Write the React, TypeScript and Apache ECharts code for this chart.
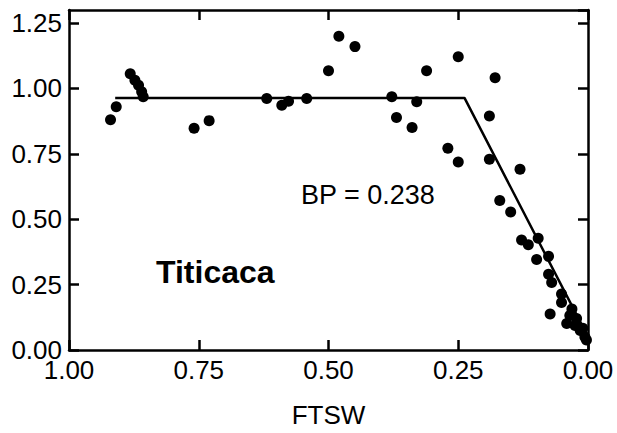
import React, { useEffect, useRef } from "react";
import * as echarts from "echarts";

const ftsw = [
  0.92, 0.909, 0.882, 0.873, 0.866, 0.86, 0.857, 0.759, 0.73, 0.619, 0.59, 0.577,
  0.542, 0.5, 0.48, 0.449, 0.378, 0.33, 0.369, 0.339, 0.311, 0.25, 0.179, 0.19,
  0.27, 0.25, 0.19, 0.17, 0.149, 0.131, 0.128, 0.115, 0.096, 0.099, 0.076, 0.076,
  0.07, 0.051, 0.051, 0.073, 0.031, 0.041, 0.022, 0.015, 0.006, 0.003, 0.025, 0.01,
  0.035,
];
const ntr = [
  0.88, 0.93, 1.056, 1.031, 1.012, 0.987, 0.968, 0.848, 0.877, 0.962, 0.936, 0.951,
  0.962, 1.068, 1.2, 1.16, 0.968, 0.949, 0.889, 0.851, 1.068, 1.121, 1.041, 0.895,
  0.771, 0.719, 0.729, 0.572, 0.528, 0.691, 0.421, 0.402, 0.427, 0.346, 0.358, 0.29,
  0.258, 0.214, 0.182, 0.138, 0.157, 0.101, 0.12, 0.075, 0.05, 0.038, 0.094, 0.083,
  0.132,
];
const fitX = [0.911, 0.238, 0];
const fitY = [0.964, 0.964, 0.05];
const xTickLabels = ["0.00", "0.25", "0.50", "0.75", "1.00"];
const yTickLabels = ["0.00", "0.25", "0.50", "0.75", "1.00", "1.25"];
const bpText = "BP = 0.238";
const siteText = "Titicaca";

const FONT = "'Liberation Sans', Arial, Helvetica, sans-serif";

function fmt(labels: string[]) {
  return (v: number) => {
    const i = Math.round(v / 0.25);
    if (Math.abs(i * 0.25 - v) > 1e-6) return "";
    return labels[i] ?? "";
  };
}

export default function App() {
  const ref = useRef<HTMLDivElement>(null);
  useEffect(() => {
    if (!ref.current) return;
    const chart = echarts.init(ref.current, undefined, { renderer: "svg" });
    const line = { show: true, onZero: false, lineStyle: { color: "#000", width: 2.5 } };
    const tick = { show: true, inside: true, length: 10, lineStyle: { color: "#000", width: 2.5 } };
    const label = { color: "#000", fontSize: 26, fontFamily: FONT };
    chart.setOption({
      animation: false,
      backgroundColor: "#fff",
      grid: { left: 69, right: 29, top: 10, bottom: 78, containLabel: false },
      xAxis: [
        {
          type: "value", min: 0, max: 1, interval: 0.25, inverse: true, position: "bottom",
          name: "FTSW", nameLocation: "middle", nameGap: 52,
          nameTextStyle: { color: "#000", fontSize: 26, fontFamily: FONT },
          axisLine: line, axisTick: tick,
          axisLabel: { ...label, margin: 7, formatter: fmt(xTickLabels) },
          splitLine: { show: false },
        },
        {
          type: "value", min: 0, max: 1, interval: 0.25, inverse: true, position: "top",
          axisLine: line, axisTick: tick, axisLabel: { show: false }, splitLine: { show: false },
        },
      ],
      yAxis: [
        {
          type: "value", min: 0, max: 1.3, interval: 0.25, position: "left",
          axisLine: line, axisTick: tick,
          axisLabel: { ...label, margin: 7, showMaxLabel: false, formatter: fmt(yTickLabels) },
          splitLine: { show: false },
        },
        {
          type: "value", min: 0, max: 1.3, interval: 0.25, position: "right",
          axisLine: line, axisTick: tick, axisLabel: { show: false }, splitLine: { show: false },
        },
      ],
      series: [
        {
          type: "line",
          data: fitX.map((x, i) => [x, fitY[i]]),
          showSymbol: false,
          lineStyle: { color: "#000", width: 2.5 },
          z: 2,
        },
        {
          type: "scatter",
          data: ftsw.map((x, i) => [x, ntr[i]]),
          symbol: "circle",
          symbolSize: 11,
          itemStyle: { color: "#000", opacity: 1 },
          z: 3,
        },
      ],
      graphic: [
        {
          type: "text", left: 301, top: 181,
          style: { text: bpText, fill: "#000", fontSize: 27, fontFamily: FONT },
        },
        {
          type: "text", left: 156, top: 256,
          style: { text: siteText, fill: "#000", fontSize: 32, fontWeight: "bold", fontFamily: FONT },
        },
      ],
    });
    return () => chart.dispose();
  }, []);
  return (
    <div
      ref={ref}
      style={{ position: "fixed", left: 0, top: 0, width: 617, height: 433 }}
    />
  );
}
